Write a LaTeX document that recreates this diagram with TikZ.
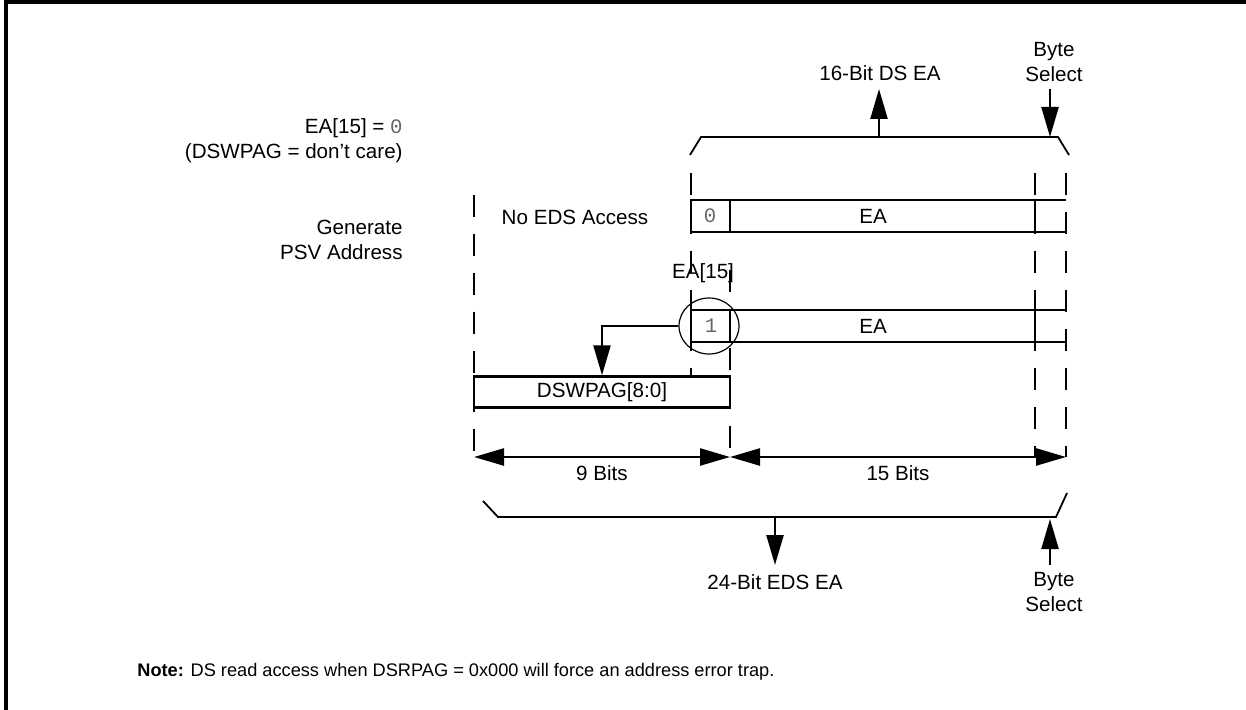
\documentclass[tikz,border=0pt]{standalone}
\usepackage{fontspec}
\setmainfont{Liberation Sans}
\newfontfamily\monof{Liberation Mono}
\usetikzlibrary{arrows.meta,shapes.geometric}
\begin{document}
\begin{tikzpicture}[x=0.5pt,y=-0.5pt,
  lbl/.style={font=\fontsize{10.3}{12.5}\selectfont, inner sep=0pt},
  notelbl/.style={font=\fontsize{9.1}{11}\selectfont, inner sep=0pt},
  mono/.style={font=\fontsize{10.3}{12.5}\monof, text=black!60, inner sep=0pt},
  ln/.style={line width=1.2pt},
  brace/.style={line width=0.9pt},
  dsh/.style={line width=1.2pt, dash pattern=on 11pt off 8.5pt},
  arr/.style={ln, -{Triangle[length=15pt,width=8.5pt]}},
  darr/.style={ln, {Triangle[length=15pt,width=8.5pt]}-{Triangle[length=15pt,width=8.5pt]}},
]
\useasboundingbox (0,0) rectangle (1246,710);
\draw[line width=1.6pt] (6,712) -- (6,2) -- (1248,2);

% left texts
\node[lbl, anchor=east] (eaeq) at (403,128) {EA[15] = {\monof\color{black!60}0}};
\node[lbl, anchor=east] (dc) at (403,153) {(DSWPAG = don’t care)};
\node[lbl, anchor=east, align=right] (gen) at (403,240) {Generate\\PSV Address};

% top brace
\draw[brace] (690,155) -- (701,137) -- (1058,137) -- (1069,155);
\coordinate (b16) at (879,137);
\coordinate (bs1b) at (1050,89);
\coordinate (bs1t) at (1050,137);
\node[lbl] (t16) at (880,73) {16-Bit DS EA};
\node[lbl, align=center] (bs1) at (1054,62) {Byte\\Select};
\draw[arr] (b16) -- ++(0,-48);
\draw[arr] (bs1b) -- (bs1t);

% dashed guides
\draw[dsh] (474,195) -- (474,457);
\draw[dsh] (691,173) -- (691,376);
\draw[dsh] (730,270) -- (730,457);
\draw[dsh] (1035,173) -- (1035,457);
\draw[dsh] (1066,173) -- (1066,457);

% row 0
\draw[ln] (1066,200) -- (691,200) -- (691,232) -- (1066,232);
\draw[ln] (730,200) -- (730,232);
\draw[ln] (1035,200) -- (1035,232);
\node[mono] (z0) at (710,216) {0};
\node[lbl] (ea0) at (873,216) {EA};
\node[lbl] (noeds) at (575,217) {No EDS Access};

% row 1
\draw[ln] (1066,310) -- (691,310) -- (691,342) -- (1066,342);
\draw[ln] (730,310) -- (730,342);
\draw[ln] (1035,310) -- (1035,342);
\node[mono] (z1) at (711,326) {1};
\node[lbl] (ea1) at (873,326) {EA};
\node[lbl] (ea15) at (703,273) {EA[15]};
\node[draw, ellipse, line width=0.6pt, minimum width=30pt, minimum height=28pt, inner sep=0pt] (circ) at (709,326) {};

% DSWPAG
\node[lbl, draw, ln, minimum width=128pt, minimum height=15.5pt] (dsw) at (602,392) {DSWPAG[8:0]};
\draw[arr] (circ.west) -| (dsw.north);

% bit widths
\coordinate (w0) at (474,457);
\coordinate (w1) at (730,457);
\coordinate (w2) at (1066,457);
\draw[darr] (w0) -- (w1);
\draw[darr] (w1) -- (w2);
\node[lbl] (nine) at (602,473) {9 Bits};
\node[lbl] (fifteen) at (898,473) {15 Bits};

% bottom brace
\draw[brace] (483,501) -- (498,517) -- (1056,517) -- (1067,493);
\coordinate (b24) at (775,517);
\coordinate (bs2t) at (1050,519);
\coordinate (bs2b) at (1050,565);
\node[lbl] (t24) at (775,582) {24-Bit EDS EA};
\node[lbl, align=center] (bs2) at (1054,592) {Byte\\Select};
\draw[arr] (b24) -- ++(0,48);
\draw[arr] (bs2b) -- (bs2t);

% note
\node[notelbl, anchor=west] (note) at (137,672) {\bfseries Note:\mdseries{} DS read access when DSRPAG = 0x000 will force an address error trap.};
\end{tikzpicture}
\end{document}
